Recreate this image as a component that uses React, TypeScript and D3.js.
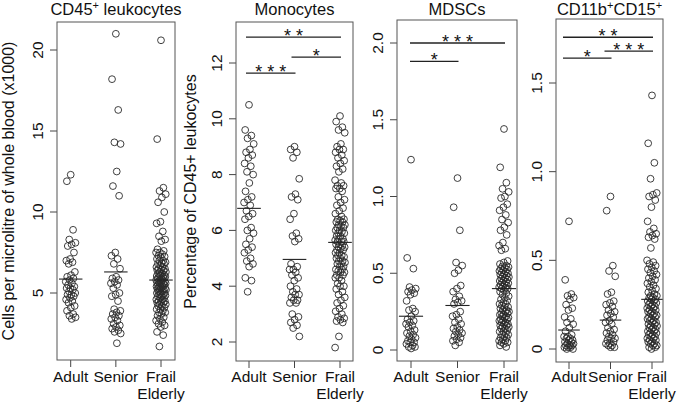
import React from 'react';
import * as d3 from 'd3';

// groups on the x axis of every panel
const groups = ['Adult', 'Senior', 'Frail Elderly'];

// CD45+ leukocytes, cells per microlitre (x1000)
const cd45Adult = [12.3, 11.9, 8.9, 8.3, 8.1, 8.0, 7.9, 7.5, 7.1, 7.0, 6.9, 6.8, 6.3, 6.1, 6.0, 5.9, 5.8, 5.7, 5.6, 5.5, 5.4, 5.3, 5.3, 5.2, 5.1, 5.0, 4.9, 4.9, 4.8, 4.7, 4.6, 4.5, 4.4, 4.2, 4.1, 3.9, 3.7, 3.6, 3.5, 3.4];
const cd45Senior = [21.0, 18.2, 16.3, 14.3, 14.2, 12.5, 11.6, 11.0, 7.5, 7.3, 7.1, 6.8, 6.5, 6.0, 5.9, 5.8, 5.7, 5.6, 5.5, 5.3, 5.0, 4.9, 4.8, 4.5, 4.0, 3.9, 3.8, 3.7, 3.6, 3.5, 3.4, 3.3, 3.1, 3.0, 2.9, 2.8, 2.7, 2.6, 2.5, 1.9];
const cd45Frail = [20.6, 14.5, 11.5, 11.3, 11.1, 10.9, 10.6, 10.0, 9.4, 9.3, 8.8, 8.5, 8.3, 8.2, 7.7, 7.6, 7.5, 7.5, 7.4, 7.3, 7.25, 7.2, 7.1, 7.0, 7.0, 6.9, 6.85, 6.8, 6.8, 6.7, 6.6, 6.6, 6.5, 6.5, 6.45, 6.4, 6.4, 6.3, 6.3, 6.2, 6.2, 6.1, 6.1, 6.05, 6.0, 6.0, 6.0, 5.9, 5.9, 5.9, 5.8, 5.8, 5.8, 5.7, 5.7, 5.7, 5.65, 5.6, 5.6, 5.6, 5.5, 5.5, 5.5, 5.4, 5.4, 5.4, 5.3, 5.3, 5.3, 5.25, 5.2, 5.2, 5.2, 5.1, 5.1, 5.0, 5.0, 5.0, 4.9, 4.9, 4.85, 4.8, 4.8, 4.7, 4.7, 4.6, 4.6, 4.5, 4.5, 4.45, 4.4, 4.4, 4.3, 4.3, 4.2, 4.2, 4.1, 4.0, 4.0, 3.9, 3.8, 3.8, 3.7, 3.6, 3.5, 3.4, 3.3, 3.2, 3.1, 3.0, 2.9, 2.6, 2.4, 1.7];
const cd45Medians = [5.86, 6.3, 5.8];

// Monocytes, percentage of CD45+ leukocytes
const monoAdult = [10.5, 9.6, 9.4, 9.3, 9.1, 8.9, 8.8, 8.7, 8.6, 8.4, 8.3, 8.1, 8.0, 7.7, 7.4, 7.2, 7.1, 7.0, 6.9, 6.7, 6.6, 6.5, 6.4, 6.1, 6.0, 5.9, 5.7, 5.5, 5.4, 5.3, 5.2, 5.0, 4.9, 4.8, 4.7, 4.3, 4.2, 3.8];
const monoSenior = [9.0, 8.9, 8.8, 8.6, 7.85, 7.3, 7.2, 7.1, 6.6, 6.4, 5.9, 5.8, 5.7, 5.6, 4.8, 4.7, 4.6, 4.6, 4.5, 4.4, 4.3, 4.2, 4.0, 3.9, 3.8, 3.7, 3.7, 3.6, 3.5, 3.5, 3.4, 3.4, 3.0, 2.9, 2.8, 2.7, 2.6, 2.5, 2.2];
const monoFrail = [10.1, 9.9, 9.7, 9.6, 9.5, 9.1, 9.0, 8.9, 8.9, 8.8, 8.7, 8.6, 8.5, 8.4, 8.3, 8.2, 8.1, 7.8, 7.7, 7.6, 7.6, 7.5, 7.5, 7.4, 7.2, 7.1, 7.0, 6.9, 6.8, 6.7, 6.6, 6.5, 6.4, 6.4, 6.35, 6.3, 6.3, 6.2, 6.2, 6.15, 6.1, 6.1, 6.0, 6.0, 5.95, 5.9, 5.9, 5.8, 5.8, 5.7, 5.7, 5.65, 5.6, 5.6, 5.6, 5.5, 5.5, 5.45, 5.4, 5.4, 5.35, 5.3, 5.3, 5.2, 5.2, 5.1, 5.1, 5.05, 5.0, 5.0, 4.9, 4.9, 4.85, 4.8, 4.8, 4.7, 4.7, 4.6, 4.6, 4.55, 4.5, 4.5, 4.4, 4.4, 4.3, 4.3, 4.2, 4.1, 4.0, 4.0, 3.9, 3.8, 3.7, 3.6, 3.5, 3.4, 3.3, 3.2, 3.1, 3.0, 2.9, 2.85, 2.8, 2.75, 2.7, 2.2, 1.8];
const monoMedians = [6.79, 4.96, 5.57];

// MDSCs
const mdscAdult = [1.24, 0.60, 0.53, 0.41, 0.40, 0.39, 0.38, 0.37, 0.36, 0.32, 0.27, 0.26, 0.25, 0.22, 0.20, 0.19, 0.18, 0.17, 0.16, 0.15, 0.13, 0.12, 0.11, 0.10, 0.09, 0.08, 0.07, 0.06, 0.05, 0.05, 0.04, 0.03, 0.02, 0.02, 0.01];
const mdscSenior = [1.12, 0.93, 0.78, 0.57, 0.55, 0.52, 0.50, 0.42, 0.40, 0.38, 0.35, 0.33, 0.32, 0.31, 0.30, 0.25, 0.23, 0.22, 0.20, 0.18, 0.17, 0.15, 0.14, 0.13, 0.12, 0.11, 0.10, 0.09, 0.08, 0.07, 0.06, 0.05, 0.03];
const mdscFrail = [1.44, 1.19, 1.09, 1.05, 1.03, 1.0, 0.99, 0.95, 0.93, 0.91, 0.88, 0.85, 0.83, 0.80, 0.78, 0.75, 0.70, 0.68, 0.66, 0.65, 0.58, 0.57, 0.56, 0.55, 0.545, 0.54, 0.535, 0.53, 0.525, 0.52, 0.515, 0.51, 0.505, 0.50, 0.495, 0.49, 0.485, 0.48, 0.475, 0.47, 0.465, 0.46, 0.455, 0.45, 0.445, 0.44, 0.435, 0.43, 0.425, 0.42, 0.415, 0.41, 0.405, 0.40, 0.40, 0.39, 0.38, 0.37, 0.36, 0.35, 0.34, 0.33, 0.32, 0.31, 0.30, 0.30, 0.29, 0.28, 0.28, 0.27, 0.26, 0.26, 0.25, 0.25, 0.24, 0.24, 0.23, 0.23, 0.22, 0.22, 0.21, 0.21, 0.20, 0.20, 0.19, 0.19, 0.18, 0.18, 0.17, 0.17, 0.16, 0.16, 0.15, 0.15, 0.14, 0.14, 0.13, 0.12, 0.12, 0.11, 0.10, 0.10, 0.09, 0.08, 0.08, 0.07, 0.06, 0.06, 0.05, 0.05, 0.04, 0.03, 0.02];
const mdscMedians = [0.22, 0.29, 0.40];

// CD11b+CD15+
const cd15Adult = [0.72, 0.39, 0.31, 0.30, 0.29, 0.28, 0.25, 0.23, 0.22, 0.18, 0.17, 0.15, 0.14, 0.12, 0.10, 0.08, 0.07, 0.07, 0.06, 0.06, 0.05, 0.05, 0.04, 0.04, 0.03, 0.03, 0.02, 0.02, 0.02, 0.01, 0.01, 0.01, 0.0, 0.0];
const cd15Senior = [0.86, 0.78, 0.47, 0.44, 0.41, 0.32, 0.31, 0.27, 0.26, 0.25, 0.24, 0.22, 0.21, 0.20, 0.19, 0.18, 0.16, 0.15, 0.14, 0.12, 0.11, 0.10, 0.09, 0.08, 0.07, 0.06, 0.06, 0.05, 0.04, 0.03, 0.03, 0.02, 0.02, 0.01, 0.01];
const cd15Frail = [1.43, 1.16, 1.05, 0.96, 0.88, 0.87, 0.86, 0.84, 0.80, 0.72, 0.68, 0.66, 0.65, 0.64, 0.63, 0.62, 0.57, 0.50, 0.49, 0.48, 0.47, 0.46, 0.45, 0.44, 0.43, 0.42, 0.41, 0.40, 0.39, 0.38, 0.37, 0.36, 0.35, 0.34, 0.33, 0.32, 0.31, 0.30, 0.30, 0.29, 0.29, 0.28, 0.28, 0.27, 0.27, 0.26, 0.26, 0.25, 0.25, 0.24, 0.24, 0.23, 0.23, 0.22, 0.22, 0.21, 0.21, 0.20, 0.20, 0.19, 0.19, 0.18, 0.18, 0.17, 0.17, 0.16, 0.16, 0.15, 0.15, 0.14, 0.14, 0.13, 0.13, 0.12, 0.12, 0.11, 0.11, 0.10, 0.10, 0.09, 0.09, 0.08, 0.08, 0.07, 0.07, 0.06, 0.06, 0.05, 0.05, 0.04, 0.04, 0.03, 0.03, 0.02, 0.02, 0.01, 0.01, 0.0];
const cd15Medians = [0.107, 0.163, 0.28];

// tick values and labels
const cd45Ticks = [5, 10, 15, 20];
const monoTicks = [2, 4, 6, 8, 10, 12];
const mdscTicks = [0, 0.5, 1, 1.5, 2];
const mdscTickLabels = ['0', '0.5', '1.0', '1.5', '2.0'];
const cd15Ticks = [0, 0.5, 1, 1.5];
const cd15TickLabels = ['0', '0.5', '1.0', '1.5'];

// significance brackets: [from, to, level, stars]
const monoSig: [string, string, number, string][] = [
  ['Adult', 'Frail Elderly', 12.93, '* *'],
  ['Senior', 'Frail Elderly', 12.21, '*'],
  ['Adult', 'Senior', 11.64, '* * *'],
];
const mdscSig: [string, string, number, string][] = [
  ['Adult', 'Frail Elderly', 2.0, '* * *'],
  ['Adult', 'Senior', 1.88, '*'],
];
const cd15Sig: [string, string, number, string][] = [
  ['Adult', 'Frail Elderly', 1.758, '* *'],
  ['Senior', 'Frail Elderly', 1.68, '* * *'],
  ['Adult', 'Senior', 1.64, '*'],
];

const panels = [
  {
    title: [{ t: 'CD45' }, { t: '+', sup: true }, { t: ' leukocytes' }],
    ylabel: 'Cells per microlitre of whole blood (x1000)',
    series: [cd45Adult, cd45Senior, cd45Frail],
    medians: cd45Medians,
    ticks: cd45Ticks,
    tickLabels: cd45Ticks.map(String),
    sig: [] as [string, string, number, string][],
    yDomain: [0, 20],
    layout: { left: 57, right: 175, top: 22, bottom: 360, xr: [70.7, 161], yr: [374, 50], ylabX: 14, barPad: 0 },
  },
  {
    title: [{ t: 'Monocytes' }],
    ylabel: 'Percentage of CD45+ leukocytes',
    series: [monoAdult, monoSenior, monoFrail],
    medians: monoMedians,
    ticks: monoTicks,
    tickLabels: monoTicks.map(String),
    sig: monoSig,
    yDomain: [2, 12],
    layout: { left: 236, right: 353, top: 22, bottom: 361, xr: [249, 340], yr: [342, 63], ylabX: 196, barPad: 3 },
  },
  {
    title: [{ t: 'MDSCs' }],
    ylabel: '',
    series: [mdscAdult, mdscSenior, mdscFrail],
    medians: mdscMedians,
    ticks: mdscTicks,
    tickLabels: mdscTickLabels,
    sig: mdscSig,
    yDomain: [0, 2],
    layout: { left: 397, right: 517, top: 20, bottom: 361, xr: [411, 504], yr: [350, 43], ylabX: 0, barPad: 1 },
  },
  {
    title: [{ t: 'CD11b' }, { t: '+', sup: true }, { t: 'CD15' }, { t: '+', sup: true }],
    ylabel: '',
    series: [cd15Adult, cd15Senior, cd15Frail],
    medians: cd15Medians,
    ticks: cd15Ticks,
    tickLabels: cd15TickLabels,
    sig: cd15Sig,
    yDomain: [0, 1.5],
    layout: { left: 556, right: 663, top: 19, bottom: 362, xr: [569, 652], yr: [349, 83], ylabX: 0, barPad: 6 },
  },
];

const font = '"Liberation Sans", Arial, sans-serif';
const ink = '#111';

// deterministic horizontal jitter
const jitter = (i: number, w: number) => (((i * 0.6180339887 + 0.5) % 1) - 0.5) * 2 * w;

const Panel = ({ p }: { p: (typeof panels)[number] }) => {
  const L = p.layout;
  const x = d3.scalePoint<string>().domain(groups).range(L.xr as [number, number]);
  const y = d3.scaleLinear().domain(p.yDomain).range(L.yr);
  const step = x.step();
  const cx = (L.left + L.right) / 2;
  const cy = (L.top + L.bottom) / 2;

  return (
    <g>
      {/* title */}
      <text x={cx} y={15} textAnchor="middle" fontSize={16.5} fill={ink}>
        {p.title.map((s, i) =>
          s.sup ? (
            <tspan key={i} fontSize={11} dy={-6}>{s.t}</tspan>
          ) : (
            <tspan key={i} dy={i > 0 && p.title[i - 1].sup ? 6 : 0}>{s.t}</tspan>
          )
        )}
      </text>

      {/* y axis title */}
      {p.ylabel && (
        <text transform={`translate(${L.ylabX},${cy}) rotate(-90)`} textAnchor="middle" fontSize={16} fill={ink}>
          {p.ylabel}
        </text>
      )}

      {/* y ticks */}
      {p.ticks.map((t, i) => (
        <g key={t}>
          <line x1={L.left - 7} x2={L.left} y1={y(t)} y2={y(t)} stroke="#444" />
          <text transform={`translate(${L.left - 14.5},${y(t)}) rotate(-90)`} textAnchor="middle" fontSize={15.5} fill={ink}>
            {p.tickLabels[i]}
          </text>
        </g>
      ))}

      {/* x ticks */}
      {groups.map((g) => (
        <g key={g}>
          <line x1={x(g)} x2={x(g)} y1={L.bottom} y2={L.bottom + 7} stroke="#444" />
          {g.split(' ').map((w, k) => (
            <text key={k} x={x(g)} y={381.5 + k * 17.5} textAnchor="middle" fontSize={15.5} fill={ink}>
              {w}
            </text>
          ))}
        </g>
      ))}

      {/* points */}
      {p.series.map((vals, gi) =>
        vals.map((v, i) => (
          <circle
            key={`${gi}-${i}`}
            cx={(x(groups[gi]) as number) + jitter(i, 5)}
            cy={y(v)}
            r={3.4}
            fill="none"
            stroke="#2a2a2a"
            strokeWidth={0.9}
          />
        ))
      )}

      {/* medians */}
      {p.medians.map((m, gi) => (
        <line
          key={gi}
          x1={(x(groups[gi]) as number) - step * 0.26}
          x2={(x(groups[gi]) as number) + step * 0.26}
          y1={y(m)}
          y2={y(m)}
          stroke="#222"
          strokeWidth={1.1}
        />
      ))}

      {/* significance bars */}
      {p.sig.map(([a, b, lvl, stars], i) => {
        const x1 = (x(a) as number) - L.barPad;
        const x2 = (x(b) as number) + 1;
        return (
          <g key={i}>
            <line x1={x1} x2={x2} y1={y(lvl)} y2={y(lvl)} stroke="#222" strokeWidth={1.3} />
            <text x={(x1 + x2) / 2} y={y(lvl) + 5} textAnchor="middle" fontSize={18} fill={ink}>
              {stars}
            </text>
          </g>
        );
      })}

      {/* box */}
      <rect x={L.left} y={L.top} width={L.right - L.left} height={L.bottom - L.top} fill="none" stroke="#555" />
    </g>
  );
};

export default function App() {
  return (
    <svg
      width={690}
      height={405}
      style={{ position: 'absolute', left: 0, top: 0, background: '#fff', fontFamily: font }}
    >
      {panels.map((p, i) => (
        <Panel key={i} p={p} />
      ))}
    </svg>
  );
}
